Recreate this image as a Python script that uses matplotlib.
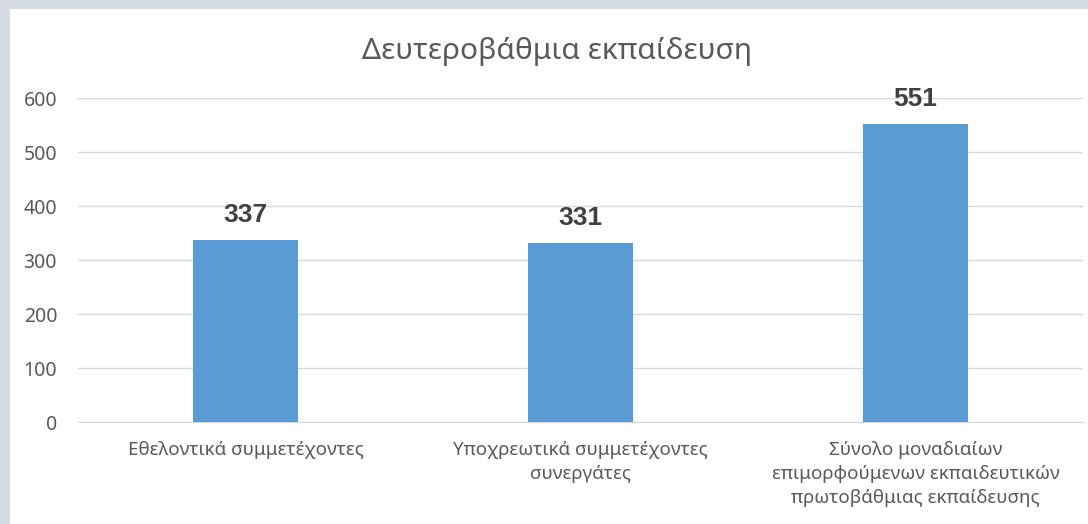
import matplotlib
matplotlib.use("Agg")
import matplotlib.pyplot as plt

plt.rcParams['font.family'] = ['Noto Sans', 'DejaVu Sans']

categories = ["Εθελοντικά συμμετέχοντες",
              "Υποχρεωτικά συμμετέχοντες\nσυνεργάτες",
              "Σύνολο μοναδιαίων\nεπιμορφούμενων εκπαιδευτικών\nπρωτοβάθμιας εκπαίδευσης"]
values = [337, 331, 551]
yticks = [0, 100, 200, 300, 400, 500, 600]

fig = plt.figure(figsize=(10.88, 5.24), dpi=100)
fig.patch.set_facecolor("#d6dce4")
# white chart area inside the frame
fig.patches.append(plt.Rectangle((10/1088, 0), 1 - 10/1088, 1 - 9/524,
                                 transform=fig.transFigure, facecolor="white",
                                 edgecolor="none", zorder=-10))

ax = fig.add_axes([78/1088, 102/524, 1005/1088, 324/524])
ax.set_zorder(1)
ax.set_facecolor("none")
x = range(len(categories))
bars = ax.bar(x, values, width=0.313, color="#5b9bd5", zorder=3)
for b, v in zip(bars, values):
    ax.text(b.get_x() + b.get_width()/2, v + 24, str(v), ha="center", va="bottom",
            fontsize=19, fontweight="bold", color="#404040",
            family=["Liberation Sans", "DejaVu Sans"])

ax.set_xlim(-0.5, 2.5)
ax.set_ylim(0, 600)
ax.set_yticks(yticks)
ax.set_xticks(list(x))
ax.set_xticklabels(categories, fontsize=13.5, color="#595959", linespacing=1.42)
ax.tick_params(axis="y", labelsize=14, colors="#595959", length=0, pad=15)
ax.tick_params(axis="x", length=0, pad=14)
ax.grid(axis="y", color="#d9d9d9", linewidth=1, zorder=0)
for s in ["top", "right", "left"]:
    ax.spines[s].set_visible(False)
ax.spines["bottom"].set_color("#d9d9d9")

fig.text(557/1088, 1 - 51/524, "Δευτεροβάθμια εκπαίδευση", ha="center", va="center",
         fontsize=21.5, color="#595959")

fig.savefig("out.png", dpi=100, facecolor=fig.get_facecolor())
